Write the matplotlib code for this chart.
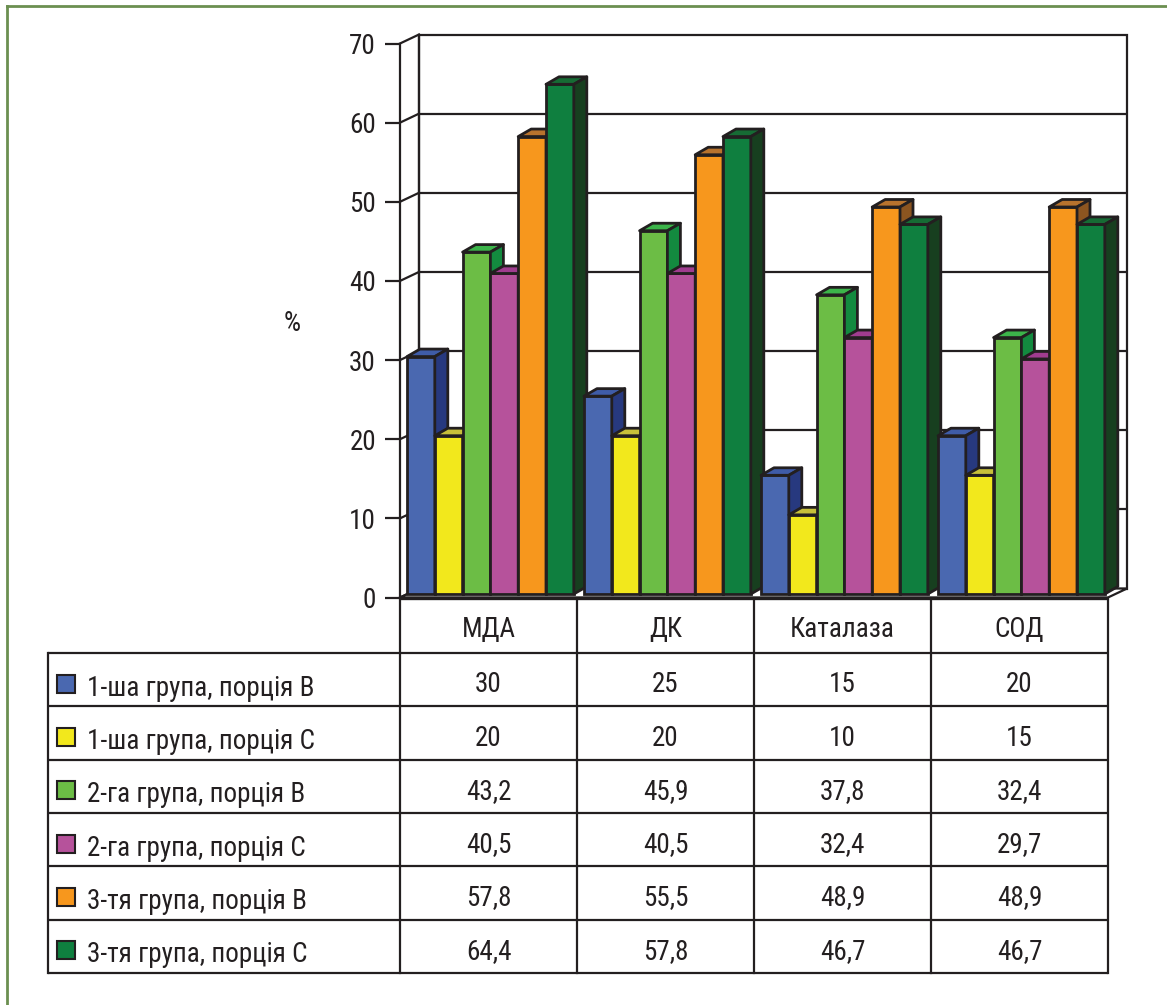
import matplotlib
matplotlib.use("Agg")
import matplotlib.pyplot as plt
from matplotlib.patches import Polygon, Rectangle

plt.rcParams['font.family'] = ['Roboto Condensed', 'Liberation Sans', 'DejaVu Sans']

# ---- data -------------------------------------------------------------
categories = ["МДА", "ДК", "Каталаза", "СОД"]
series_names = [
    "1-ша група, порція В",
    "1-ша група, порція С",
    "2-га група, порція В",
    "2-га група, порція С",
    "3-тя група, порція В",
    "3-тя група, порція С",
]
g1_B = [30, 25, 15, 20]
g1_C = [20, 20, 10, 15]
g2_B = [43.2, 45.9, 37.8, 32.4]
g2_C = [40.5, 40.5, 32.4, 29.7]
g3_B = [57.8, 55.5, 48.9, 48.9]
g3_C = [64.4, 57.8, 46.7, 46.7]
series_values = [g1_B, g1_C, g2_B, g2_C, g3_B, g3_C]
y_ticks = [0, 10, 20, 30, 40, 50, 60, 70]
y_label = "%"

# ---- styling ------------------------------------------------------------
# (front, top, side) shades for each series
palette = [
    ("#4a68b0", "#3f5ca8", "#27397f"),
    ("#f2e81c", "#c8c03a", "#9e9a20"),
    ("#6cbd45", "#3cb44a", "#138a3f"),
    ("#b6529b", "#a03c8f", "#7a2d6e"),
    ("#f7971d", "#b8732d", "#8c5520"),
    ("#0f7f3f", "#166b34", "#173f1f"),
]
INK = "#231f20"
FRAME = "#6b8f50"
FS = 19.5

W, H = 1167, 1005
fig = plt.figure(figsize=(W / 100, H / 100), dpi=100)

# full-figure canvas in pixel units for table and frame
canvas = fig.add_axes([0, 0, 1, 1])
canvas.set_xlim(0, W)
canvas.set_ylim(H, 0)
canvas.axis("off")

# chart axes: front plane of the pseudo-3D plot
ax_l, ax_r, ax_top, ax_bot = 400, 1108, 43.5, 597.5
ax = fig.add_axes([ax_l / W, (H - ax_bot) / H, (ax_r - ax_l) / W, (ax_bot - ax_top) / H])
ncat = len(categories)
ax.set_xlim(0, ncat)
ax.set_ylim(y_ticks[0], y_ticks[-1])
ax.patch.set_alpha(0)
px_x = (ax_r - ax_l) / ncat
px_y = (ax_bot - ax_top) / (y_ticks[-1] - y_ticks[0])

for s in ["top", "right", "bottom"]:
    ax.spines[s].set_visible(False)
ax.spines["left"].set_color(INK)
ax.spines["left"].set_linewidth(1.6)
ax.spines["left"].set_zorder(3)
ax.set_xticks([])
ax.set_yticks(y_ticks)
ax.tick_params(axis="y", length=10.8, width=1.6, color=INK, pad=6.5,
               labelsize=FS, labelcolor=INK)

# wall depth
wx, wy = 19 / px_x, 9 / px_y
# back wall
ax.add_patch(Rectangle((wx, wy), ncat, y_ticks[-1], facecolor="white",
                       edgecolor=INK, lw=1.6, zorder=0.5, clip_on=False))
for t in y_ticks[1:-1]:
    ax.plot([wx, ncat + wx], [t + wy, t + wy], color=INK, lw=1.6,
            zorder=0.6, clip_on=False, solid_capstyle="butt")
# side wall edges
ax.plot([wx, wx], [wy, y_ticks[-1] + wy], color=INK, lw=1.6, zorder=0.7, clip_on=False)
for t in y_ticks:
    ax.plot([0, wx], [t, t + wy], color=INK, lw=1.6, zorder=0.7, clip_on=False)
# floor
ax.add_patch(Polygon([(0, 0), (ncat, 0), (ncat + wx, wy), (wx, wy)], closed=True,
                     facecolor="white", edgecolor=INK, lw=1.6, zorder=0.8,
                     clip_on=False))

# bars
bw = 27.8 / px_x
gap = 7 / px_x
dx, dy = 13 / px_x, 7.5 / px_y
base = 3.5 / px_y
z = 2.0
for i in range(ncat):
    for j, vals in enumerate(series_values):
        v = vals[i]
        front, top, side = palette[j]
        x0 = i + gap + j * bw
        ax.bar(x0, v, width=bw, bottom=base, align="edge", color=front,
               edgecolor=INK, linewidth=2, zorder=z, clip_on=False)
        yt = base + v
        ax.add_patch(Polygon([(x0, yt), (x0 + bw, yt), (x0 + bw + dx, yt + dy),
                              (x0 + dx, yt + dy)], closed=True, facecolor=top,
                             edgecolor=INK, lw=2, joinstyle="round",
                             zorder=z + 0.01, clip_on=False))
        ax.add_patch(Polygon([(x0 + bw, base), (x0 + bw + dx, base + dy),
                              (x0 + bw + dx, yt + dy), (x0 + bw, yt)], closed=True,
                             facecolor=side, edgecolor=INK, lw=2, joinstyle="round",
                             zorder=z + 0.02, clip_on=False))
        z += 0.1

# floor front edge drawn over the bar bases
ax.plot([0, ncat], [0, 0], color=INK, lw=2.4, zorder=z + 1, clip_on=False,
        solid_capstyle="butt")

canvas.text(292, 323, y_label, fontsize=FS, color=INK, ha="center", va="center")

# ---- data table ---------------------------------------------------------
tab_left = 48
head_bot = 653
row_h = (973 - head_bot) / len(series_names)
row_edges = [head_bot + k * row_h for k in range(len(series_names) + 1)]
col_edges = [ax_l + k * px_x for k in range(ncat + 1)]

for y in row_edges:
    canvas.plot([tab_left, ax_r], [y, y], color=INK, lw=1.6, solid_capstyle="butt")
canvas.plot([tab_left, tab_left], [head_bot, row_edges[-1]], color=INK, lw=1.6)
for x in col_edges:
    canvas.plot([x, x], [ax_bot, row_edges[-1]], color=INK, lw=1.6)

for i, name in enumerate(categories):
    cx = (col_edges[i] + col_edges[i + 1]) / 2
    canvas.text(cx, (ax_bot + head_bot) / 2 + 12, name, fontsize=FS, color=INK,
                ha="center", va="baseline")

for j, (name, vals) in enumerate(zip(series_names, series_values)):
    cy = (row_edges[j] + row_edges[j + 1]) / 2
    canvas.add_patch(Rectangle((57, cy - 5), 18, 18, facecolor=palette[j][0],
                               edgecolor=INK, lw=1.5))
    canvas.text(87, cy + 16, name, fontsize=FS, color=INK, ha="left", va="baseline")
    for i, v in enumerate(vals):
        cx = (col_edges[i] + col_edges[i + 1]) / 2
        canvas.text(cx, cy + 12.5, f"{v:g}".replace(".", ","), fontsize=FS,
                    color=INK, ha="center", va="baseline")

# outer frame
canvas.plot([7, 7], [6, H], color=FRAME, lw=2)
canvas.plot([7, W], [6, 6], color=FRAME, lw=2)

fig.savefig("out.png", dpi=100)
